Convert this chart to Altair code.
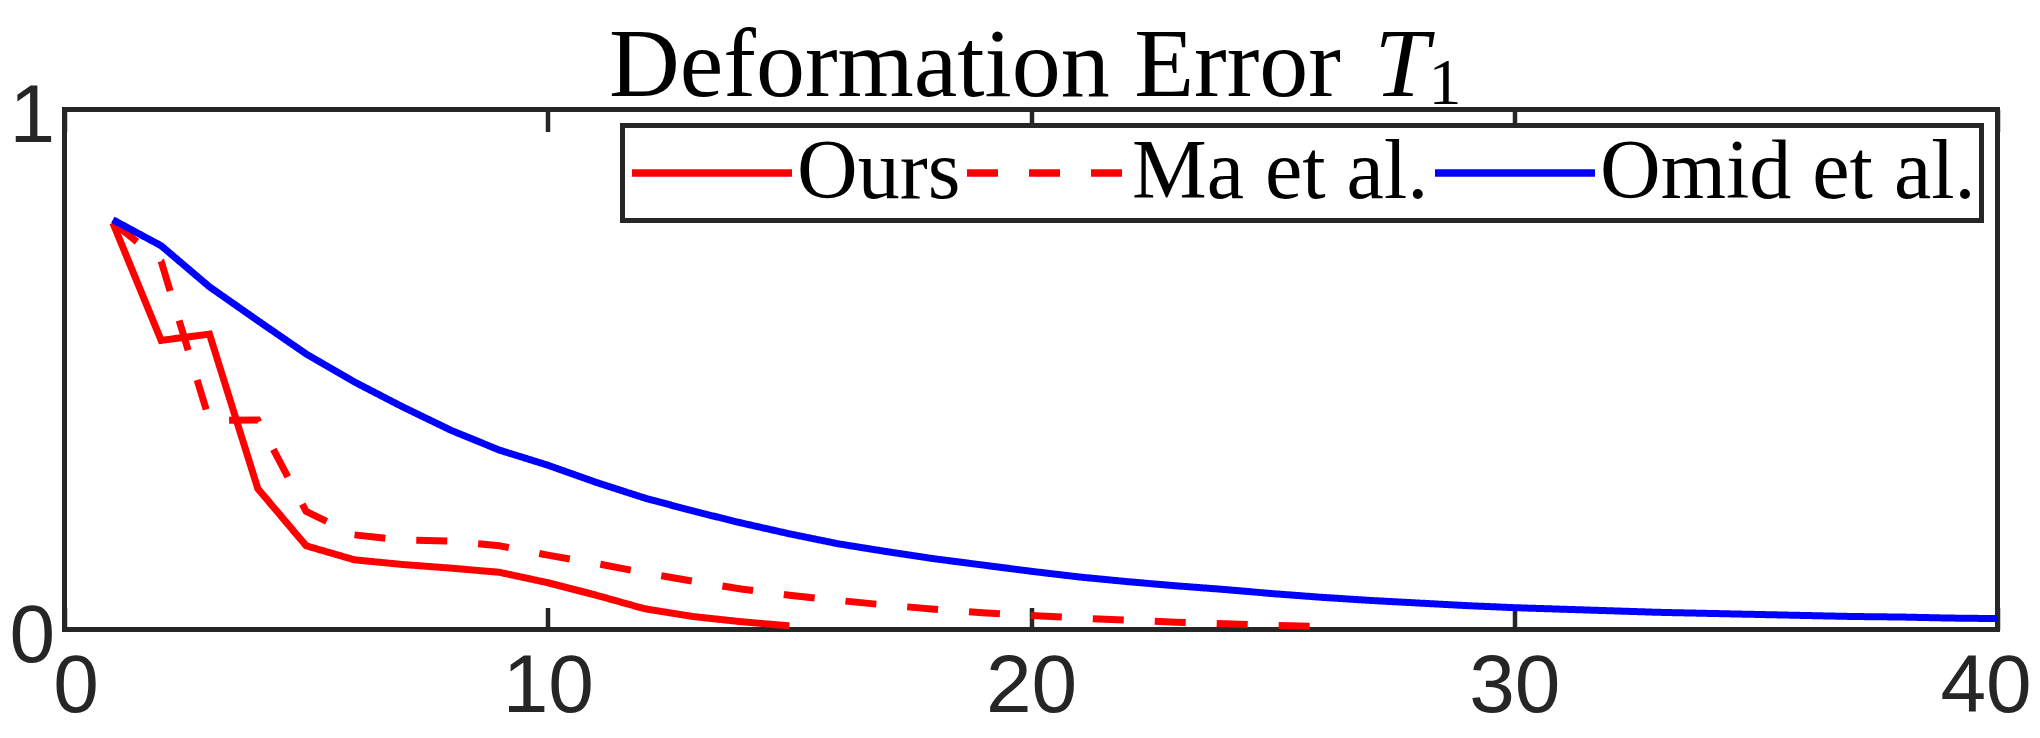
import altair as alt
import pandas as pd

# ---- data ----
series_names = ["Ours", "Ma et al.", "Omid et al."]
series_colors = ["#ff0000", "#ff0000", "#0000ff"]

x_ours = list(range(1, 16))
y_ours = [0.782, 0.556, 0.568, 0.271, 0.161, 0.134, 0.125, 0.118, 0.110,
          0.090, 0.066, 0.040, 0.025, 0.015, 0.007]

x_ma = list(range(1, 27))
y_ma = [0.783, 0.708, 0.402, 0.403, 0.227, 0.182, 0.172, 0.170, 0.161,
        0.143, 0.127, 0.109, 0.093, 0.078, 0.066, 0.056, 0.047, 0.039,
        0.032, 0.027, 0.022, 0.018, 0.014, 0.011, 0.008, 0.006]

x_omid = list(range(1, 41))
y_omid = [0.788, 0.738, 0.659, 0.594, 0.530, 0.476, 0.428, 0.383, 0.345,
          0.316, 0.283, 0.253, 0.228, 0.205, 0.184, 0.165, 0.150, 0.136,
          0.124, 0.112, 0.101, 0.092, 0.084, 0.077, 0.069, 0.062, 0.056,
          0.051, 0.046, 0.042, 0.039, 0.036, 0.033, 0.031, 0.029, 0.027,
          0.025, 0.024, 0.022, 0.021]

x_ticks = [0, 10, 20, 30, 40]
y_ticks = [0, 1]

title_main = "Deformation Error"
title_sym = "T"
title_sub = "1"

# ---- build table ----
rows = []
for name, xs, ys in [("Ours", x_ours, y_ours), ("Ma et al.", x_ma, y_ma),
                     ("Omid et al.", x_omid, y_omid)]:
    for xv, yv in zip(xs, ys):
        rows.append({"x": xv, "y": yv, "series": name})
df = pd.DataFrame(rows)

AX = "#262626"
W, H = 1933, 520

color_scale = alt.Scale(domain=series_names, range=series_colors)
dash_scale = alt.Scale(domain=series_names, range=[[1, 0], [31, 31], [1, 0]])

legend = alt.Legend(title=None, orient="top-right", direction="horizontal",
                    columns=3)

y_axis = alt.Axis(values=y_ticks, ticks=False, domain=False, grid=False,
                  title=None, labelFont="Liberation Sans", labelFontSize=82,
                  labelColor=AX, labelPadding=10, labelFlush=False,
                  labelBaseline="middle", labelOffset=7, format=".0f",
                  labelOverlap=False)

x_label_shift = {
    "condition": [
        {"test": f"datum.value == {x_ticks[0]}", "value": 11},
        {"test": f"datum.value == {x_ticks[-1]}", "value": -12},
    ],
    "value": 0,
}

x_axis_bottom = alt.Axis(values=x_ticks, orient="bottom", offset=-22,
                         tickSize=22, tickWidth=4.5, tickColor=AX,
                         domain=False, grid=False, title=None,
                         labelFont="Liberation Sans", labelFontSize=82,
                         labelColor=AX, labelPadding=17, labelFlush=False,
                         labelOffset=x_label_shift, format="d",
                         labelOverlap=False)
x_axis_top = alt.Axis(values=x_ticks, orient="top", offset=-22,
                      tickSize=22, tickWidth=4.5, tickColor=AX,
                      domain=False, grid=False, title=None, labels=False)

x_scale = alt.Scale(domain=[0, 40], nice=False, zero=False)
y_scale = alt.Scale(domain=[0, 1], nice=False)


def line_layer(name, xaxis):
    return alt.Chart(df).transform_filter(
        alt.datum.series == name
    ).mark_line(strokeWidth=7, strokeCap="butt", strokeJoin="miter").encode(
        x=alt.X("x:Q", scale=x_scale, axis=xaxis),
        y=alt.Y("y:Q", scale=y_scale, axis=y_axis),
        color=alt.Color("series:N", scale=color_scale, legend=legend,
                        sort=series_names),
        strokeDash=alt.StrokeDash("series:N", scale=dash_scale, legend=legend,
                                  sort=series_names),
    )


ma = line_layer("Ma et al.", x_axis_bottom)
ours = line_layer("Ours", x_axis_top)
omid = line_layer("Omid et al.", None)

one = pd.DataFrame({"k": [0]})
t_main = alt.Chart(one).mark_text(
    font="Liberation Serif", fontSize=98, align="center",
    baseline="alphabetic", color="black"
).encode(x=alt.value(910.5), y=alt.value(-14), text=alt.value(title_main))
t_sym = alt.Chart(one).mark_text(
    font="Liberation Serif", fontSize=98, fontStyle="italic", align="left",
    baseline="alphabetic", color="black"
).encode(x=alt.value(1310), y=alt.value(-14), text=alt.value(title_sym))
t_sub = alt.Chart(one).mark_text(
    font="Liberation Serif", fontSize=66, align="left",
    baseline="alphabetic", color="black"
).encode(x=alt.value(1364), y=alt.value(-5.5), text=alt.value(title_sub))

chart = alt.layer(ma, ours, omid, t_main, t_sym, t_sub).resolve_axis(
    x="independent"
).properties(
    width=W, height=H,
    autosize=alt.AutoSizeParams(type="none"),
    padding={"left": 56.5, "top": 101.5, "right": 34.5, "bottom": 100.5},
    background="white",
).configure_view(
    stroke=AX, strokeWidth=5
).configure_legend(
    padding=5.5, offset=16, strokeColor=AX, strokeWidth=5, fillColor="white",
    symbolType="stroke", symbolSize=25600, symbolStrokeWidth=7.5,
    labelFont="Liberation Serif", labelFontSize=84, labelColor="black",
    labelOffset=1, columnPadding=2, labelLimit=1000, rowPadding=0,
    clipHeight=84,
)

chart.save("out.html", embed_options={"renderer": "svg", "actions": False})
